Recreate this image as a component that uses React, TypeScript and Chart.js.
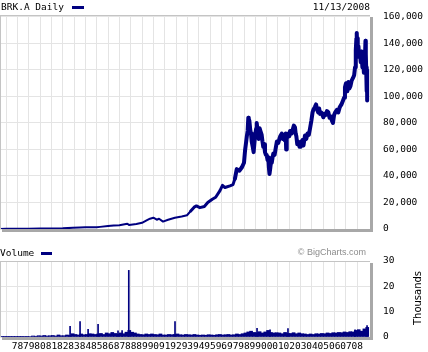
import React, { useEffect, useRef } from 'react';
import { Chart, registerables } from 'chart.js';

Chart.register(...registerables);

const NAVY = '#000080';
const MONO = '"DejaVu Sans Mono", monospace';

// Price history (decimal year, USD)
const priceDates = [
  1976.46, 1977.0, 1978.0, 1979.0, 1980.0, 1981.0, 1982.0, 1982.9, 1983.5, 1984.0,
  1985.0, 1985.3, 1986.0, 1986.5, 1987.0, 1987.7, 1987.85, 1988.5, 1989.0, 1989.4,
  1989.7, 1990.0, 1990.3, 1990.5, 1990.85, 1991.3, 1991.9, 1992.5, 1992.97, 1993.3,
  1993.6, 1993.8, 1994.1, 1994.5, 1994.8, 1995.2, 1995.5, 1995.88, 1996.1, 1996.32,
  1996.76, 1997.03, 1997.2, 1997.36, 1997.6, 1997.8, 1998.0, 1998.09, 1998.25, 1998.32,
  1998.38, 1998.42, 1998.47, 1998.55, 1998.62, 1998.68, 1998.77, 1998.85, 1998.93, 1999.0,
  1999.08, 1999.12, 1999.2, 1999.3, 1999.38, 1999.45, 1999.56, 1999.63, 1999.7, 1999.78,
  1999.85, 1999.93, 2000.0, 2000.08, 2000.14, 2000.2, 2000.25, 2000.32, 2000.4, 2000.45,
  2000.52, 2000.59, 2000.7, 2000.8, 2000.9, 2001.03, 2001.12, 2001.2, 2001.33, 2001.42,
  2001.5, 2001.6, 2001.68, 2001.72, 2001.77, 2001.9, 2002.0, 2002.06, 2002.2, 2002.3,
  2002.4, 2002.5, 2002.56, 2002.62, 2002.7, 2002.79, 2002.9, 2003.0, 2003.08, 2003.15,
  2003.25, 2003.38, 2003.5, 2003.6, 2003.72, 2003.82, 2003.95, 2004.05, 2004.12, 2004.25,
  2004.36, 2004.45, 2004.55, 2004.63, 2004.71, 2004.82, 2004.92, 2005.0, 2005.1, 2005.2,
  2005.32, 2005.44, 2005.55, 2005.65, 2005.75, 2005.85, 2005.95, 2006.05, 2006.2, 2006.32,
  2006.45, 2006.6, 2006.74, 2006.83, 2006.91, 2007.0, 2007.05, 2007.12, 2007.21, 2007.3,
  2007.4, 2007.5, 2007.62, 2007.72, 2007.8, 2007.85, 2007.88, 2007.92, 2007.95, 2007.98,
  2008.02, 2008.06, 2008.1, 2008.16, 2008.24, 2008.3, 2008.35, 2008.4, 2008.45, 2008.5,
  2008.53, 2008.58, 2008.62, 2008.67, 2008.72, 2008.75, 2008.78, 2008.8, 2008.82, 2008.84,
  2008.85, 2008.86, 2008.87,
];
const priceValues = [
  90, 100, 140, 220, 330, 440, 480, 900, 1100, 1250,
  1300, 1600, 2300, 2700, 2900, 4000, 3100, 3700, 4700, 6500,
  7800, 8500, 7000, 7700, 5600, 7000, 8500, 9500, 10400, 13600,
  16500, 17400, 16100, 17000, 20000, 22500, 24000, 29000, 33000, 31300,
  32600, 33500, 38000, 45200, 44000, 46400, 50000, 59000, 70000, 74000,
  84000, 78000, 82000, 75000, 72000, 66000, 62000, 58000, 66000, 72000,
  76000, 80000, 74000, 68000, 76000, 74000, 71000, 66000, 62000, 64000,
  58000, 56000, 56000, 52000, 54000, 46000, 41500, 46000, 52000, 50000,
  54000, 57000, 56000, 61000, 66000, 65000, 68000, 70000, 72000, 68000,
  71000, 67000, 72000, 60000, 68000, 72000, 70000, 74000, 72000, 75000,
  78000, 76700, 72000, 70000, 64000, 66000, 62000, 62000, 66000, 67000,
  63000, 70500, 68000, 72000, 71000, 75500, 82000, 88000, 90000, 92000,
  94000, 90000, 88000, 91000, 86900, 88000, 86000, 84300, 87000, 86000,
  89000, 88100, 84000, 85000, 82000, 80000, 86000, 88000, 90000, 88000,
  92000, 94000, 97000, 99000, 107000, 110000, 108000, 104000, 111000, 106000,
  108000, 112000, 114000, 116000, 122000, 128000, 135000, 144000, 148000, 140000,
  144000, 136000, 138000, 130000, 132000, 126000, 134000, 128000, 122000, 128000,
  125000, 118000, 122000, 128000, 142000, 132000, 122000, 112000, 104000, 118000,
  108000, 120000, 97000,
];

// Year grid / tick labels
const yearTicks = [
  1977, 1978, 1979, 1980, 1981, 1982, 1983, 1984, 1985, 1986, 1987, 1988, 1989, 1990, 1991, 1992,
  1993, 1994, 1995, 1996, 1997, 1998, 1999, 2000, 2001, 2002, 2003, 2004, 2005, 2006, 2007, 2008,
];
const priceTicks = [0, 20000, 40000, 60000, 80000, 100000, 120000, 140000, 160000];
const volumeTicks = [0, 10, 20, 30];

// Volume (thousands) – quarterly, one row per year
const volYears = [
  1976, 1977, 1978, 1979, 1980, 1981, 1982, 1983, 1984, 1985, 1986, 1987, 1988, 1989, 1990, 1991,
  1992, 1993, 1994, 1995, 1996, 1997, 1998, 1999, 2000, 2001, 2002, 2003, 2004, 2005, 2006, 2007, 2008,
];
const volQuarterly = [
  [0, 0, 0.1, 0.1],
  [0.1, 0.1, 0.1, 0.1],
  [0.1, 0.1, 0.15, 0.1],
  [0.2, 0.4, 0.3, 0.5],
  [0.4, 0.6, 0.4, 0.5],
  [0.6, 0.4, 0.8, 0.5],
  [0.5, 0.8, 0.6, 1.3],
  [1.0, 0.8, 1.2, 0.9],
  [1.0, 1.3, 1.2, 1.0],
  [1.2, 1.4, 1.0, 1.6],
  [1.3, 1.8, 1.4, 1.2],
  [1.6, 1.3, 1.9, 2.6],
  [1.9, 1.6, 1.2, 1.0],
  [0.9, 1.2, 1.0, 1.2],
  [1.0, 0.9, 1.2, 0.8],
  [0.8, 1.0, 0.9, 1.0],
  [1.2, 0.9, 0.8, 1.0],
  [0.9, 0.8, 1.0, 0.8],
  [0.7, 0.8, 0.7, 0.9],
  [0.8, 0.7, 0.9, 1.0],
  [0.8, 0.9, 1.0, 0.8],
  [0.9, 1.2, 1.0, 1.3],
  [1.6, 2.0, 2.3, 1.8],
  [1.7, 2.1, 1.6, 2.0],
  [2.6, 1.8, 1.6, 1.7],
  [1.6, 1.3, 1.8, 1.4],
  [1.4, 1.7, 1.3, 1.6],
  [1.3, 1.2, 1.0, 1.2],
  [1.0, 1.3, 1.2, 1.4],
  [1.3, 1.6, 1.4, 1.7],
  [1.6, 1.8, 1.7, 2.0],
  [1.8, 2.1, 2.0, 2.6],
  [2.9, 2.3, 3.2, 3.8],
];
const spikeDates = [1982.65, 1983.53, 1984.24, 1985.12, 1986.88, 1987.24, 1987.83, 1991.91, 1999.15, 2000.3, 2001.88, 2007.8, 2008.86];
const spikeValues = [4.2, 6.1, 3.0, 5.0, 2.4, 2.5, 26.3, 6.1, 3.4, 2.8, 3.3, 2.8, 4.5];

const X_MIN = 1976.464;
const X_MAX = 2009.12;
const GRID = '#e4e4e4';

function drawFrame(chart: any) {
  const { ctx, chartArea: a } = chart;
  ctx.save();
  ctx.fillStyle = '#a8a8a8';
  ctx.fillRect(a.right, a.top + 2, 3, a.bottom - a.top + 1);
  ctx.fillRect(a.left + 2, a.bottom, a.right - a.left + 1, 3);
  ctx.strokeStyle = '#c4c4c4';
  ctx.lineWidth = 1;
  ctx.beginPath();
  ctx.moveTo(a.left, a.top + 0.5);
  ctx.lineTo(a.right, a.top + 0.5);
  ctx.moveTo(a.left + 0.5, a.top);
  ctx.lineTo(a.left + 0.5, a.bottom);
  ctx.stroke();
  ctx.restore();
}

const priceDeco = {
  id: 'priceDeco',
  afterDraw(chart: any) {
    drawFrame(chart);
    const { ctx } = chart;
    ctx.save();
    ctx.font = `9.5px ${MONO}`;
    ctx.fillStyle = '#000';
    ctx.textBaseline = 'middle';
    ctx.textAlign = 'left';
    ctx.fillText('BRK.A Daily', 1, 8);
    ctx.fillStyle = NAVY;
    ctx.fillRect(72, 6, 12, 3);
    ctx.fillStyle = '#000';
    ctx.textAlign = 'right';
    ctx.fillText('11/13/2008', 370, 8);
    ctx.restore();
  },
};

const volumeDeco = {
  id: 'volumeDeco',
  afterDraw(chart: any) {
    drawFrame(chart);
    const { ctx } = chart;
    ctx.save();
    ctx.font = `9.5px ${MONO}`;
    ctx.fillStyle = '#000';
    ctx.textBaseline = 'middle';
    ctx.textAlign = 'left';
    ctx.fillText('Volume', 0, 14);
    ctx.fillStyle = NAVY;
    ctx.fillRect(41, 12, 11, 3);
    ctx.font = '9px "Liberation Sans", Arial, sans-serif';
    ctx.fillStyle = '#8c8c8c';
    ctx.textAlign = 'right';
    ctx.fillText('\u00A9 BigCharts.com', 366, 13);
    ctx.translate(418, 58);
    ctx.rotate(-Math.PI / 2);
    ctx.font = '10px "DejaVu Sans", sans-serif';
    ctx.fillStyle = '#000';
    ctx.textAlign = 'center';
    ctx.fillText('Thousands', 0, 0);
    ctx.restore();
  },
};

export default function App() {
  const priceRef = useRef<HTMLCanvasElement>(null);
  const volRef = useRef<HTMLCanvasElement>(null);

  useEffect(() => {
    const pricePoints = priceDates.map((d, i) => ({ x: d, y: priceValues[i] }));
    const volPoints: { x: number; y: number }[] = [];
    volYears.forEach((yr, i) => {
      volQuarterly[i].forEach((v, q) => volPoints.push({ x: yr + (q + 0.5) / 4, y: v }));
    });
    const spikePoints = spikeDates.map((d, i) => ({ x: d, y: spikeValues[i] }));

    const xBase = (showLabels: boolean, height: number) => ({
      type: 'linear' as const,
      min: X_MIN,
      max: X_MAX,
      offset: false,
      afterBuildTicks: (s: any) => {
        s.ticks = yearTicks.map((v) => ({ value: v }));
      },
      afterFit: (s: any) => {
        s.height = height;
      },
      grid: { color: GRID, drawTicks: false, offset: false },
      border: { display: false },
      ticks: {
        display: showLabels,
        autoSkip: false,
        maxRotation: 0,
        minRotation: 0,
        padding: 4,
        color: '#000',
        font: { family: MONO, size: 9.5 },
        callback: (v: any) => (v === 1977 ? '' : String(v).slice(2)),
      },
    });

    const yGrid = { color: GRID, drawTicks: true, tickLength: 13, tickColor: 'rgba(0,0,0,0)' };

    const priceChart = new Chart(priceRef.current!, {
      type: 'line',
      data: {
        datasets: [
          {
            data: pricePoints,
            borderColor: NAVY,
            borderWidth: 3,
            borderJoinStyle: 'round',
            borderCapStyle: 'round',
            pointRadius: 0,
            tension: 0,
            fill: false,
            segment: {
              borderWidth: (c: any) => (c.p0.parsed.x < 1993 ? 2 : c.p0.parsed.x < 1997.2 ? 3 : 4),
            },
          },
        ],
      },
      options: {
        animation: false,
        responsive: false,
        layout: { padding: { top: 15, left: 0, right: 0, bottom: 11 } },
        plugins: { legend: { display: false }, tooltip: { enabled: false } },
        scales: {
          x: xBase(false, 0) as any,
          y: {
            position: 'right',
            min: 0,
            max: 161509,
            afterBuildTicks: (s: any) => {
              s.ticks = priceTicks.map((v) => ({ value: v }));
            },
            afterFit: (s: any) => {
              s.width = 58;
            },
            grid: yGrid,
            border: { display: false },
            ticks: {
              padding: 0,
              color: '#000',
              font: { family: MONO, size: 9.5 },
              callback: (v: any) => Number(v).toLocaleString('en-US'),
            },
          },
        },
      },
      plugins: [priceDeco],
    });

    const volChart = new Chart(volRef.current!, {
      type: 'bar',
      data: {
        datasets: [
          { data: volPoints, backgroundColor: NAVY, barThickness: 3 },
          { data: spikePoints, backgroundColor: NAVY, barThickness: 1 },
        ],
      },
      options: {
        animation: false,
        responsive: false,
        layout: { padding: { top: 21, left: 0, right: 0, bottom: 0 } },
        plugins: { legend: { display: false }, tooltip: { enabled: false } },
        datasets: { bar: { grouped: false } },
        scales: {
          x: xBase(true, 15) as any,
          y: {
            position: 'right',
            min: 0,
            max: 30,
            afterBuildTicks: (s: any) => {
              s.ticks = volumeTicks.map((v) => ({ value: v }));
            },
            afterFit: (s: any) => {
              s.width = 58;
            },
            grid: yGrid,
            border: { display: false },
            ticks: {
              padding: 0,
              color: '#000',
              font: { family: MONO, size: 9.5 },
            },
          },
        },
      },
      plugins: [volumeDeco],
    });

    return () => {
      priceChart.destroy();
      volChart.destroy();
    };
  }, []);

  return (
    <div style={{ position: 'fixed', left: 0, top: 0, width: 428, height: 352, background: '#fff' }}>
      <canvas ref={priceRef} width={428} height={240} style={{ position: 'absolute', left: 0, top: 0 }} />
      <canvas ref={volRef} width={428} height={112} style={{ position: 'absolute', left: 0, top: 240 }} />
    </div>
  );
}
